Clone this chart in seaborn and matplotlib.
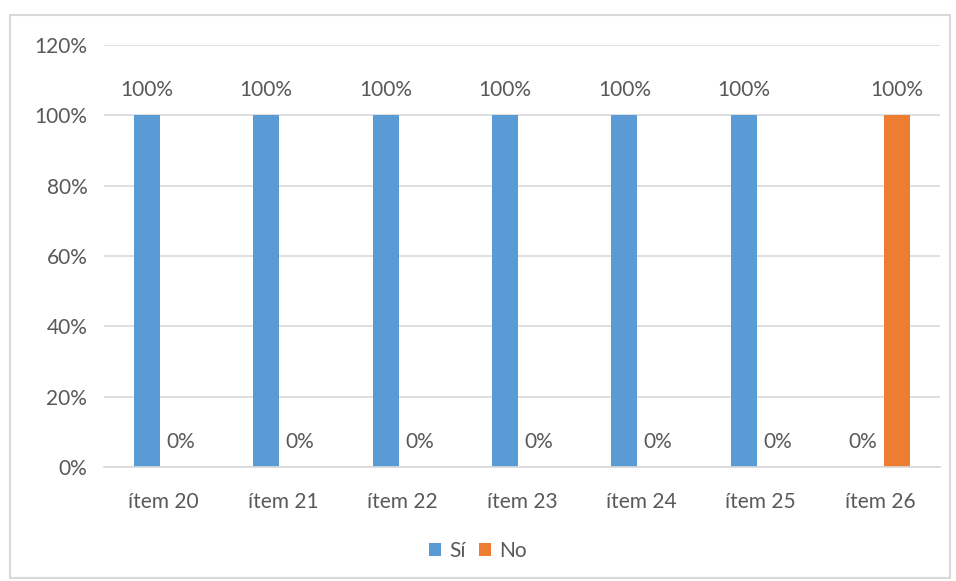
import matplotlib
matplotlib.use("Agg")
from matplotlib import pyplot as plt
from matplotlib.patches import Rectangle
from matplotlib.ticker import PercentFormatter
import pandas as pd
import seaborn as sns

items = ["ítem 20", "ítem 21", "ítem 22", "ítem 23", "ítem 24", "ítem 25", "ítem 26"]
si = [1.0, 1.0, 1.0, 1.0, 1.0, 1.0, 0.0]
no = [0.0, 0.0, 0.0, 0.0, 0.0, 0.0, 1.0]
series = ["Sí", "No"]
colors = ["#5B9BD5", "#ED7D31"]

df = pd.DataFrame({
    "item": items * 2,
    "respuesta": [series[0]] * len(items) + [series[1]] * len(items),
    "valor": si + no,
})

sns.set_style("white")
plt.rcParams["font.family"] = ["Lato", "DejaVu Sans"]
txt = "#595959"
grid = "#D9D9D9"
fs = 15

fig = plt.figure(figsize=(9.56, 5.81), dpi=100)
ax = fig.add_axes([0.1088, 0.196, 0.8742, 0.7265])

sns.barplot(
    data=df, x="item", y="valor", hue="respuesta",
    palette=colors, saturation=1, width=0.568, gap=0.232, ax=ax,
    legend=True, linewidth=0,
)

for cont in ax.containers:
    ax.bar_label(cont, fmt="{:.0%}", padding=11, fontsize=fs, color=txt)

ax.set_ylim(0, 1.2)
ax.set_yticks([0, 0.2, 0.4, 0.6, 0.8, 1.0, 1.2])
ax.yaxis.set_major_formatter(PercentFormatter(1.0, decimals=0))
ax.set_xlim(-0.5, len(items) - 0.5)
ax.set_xlabel("")
ax.set_ylabel("")
ax.grid(axis="y", color=grid, linewidth=1.2)
ax.set_axisbelow(True)
for s in ["top", "right", "left"]:
    ax.spines[s].set_visible(False)
ax.spines["bottom"].set_color(grid)
ax.spines["bottom"].set_linewidth(1.2)
ax.tick_params(axis="both", length=0, labelsize=fs, colors=txt)
ax.tick_params(axis="x", pad=18)
ax.tick_params(axis="y", pad=12)

handles, labels = ax.get_legend_handles_labels()
ax.get_legend().remove()
fig.legend(
    handles, labels, loc="center", bbox_to_anchor=(0.5, 0.052), ncol=2,
    frameon=False, fontsize=fs, labelcolor=txt,
    handlelength=0.6, handleheight=0.6, handletextpad=0.4, columnspacing=0.6,
)

fig.patches.append(Rectangle(
    (10 / 956, 3 / 581), 940 / 956, 563 / 581, transform=fig.transFigure,
    fill=False, edgecolor=grid, linewidth=1.5,
))

fig.savefig("out.png", dpi=100)
